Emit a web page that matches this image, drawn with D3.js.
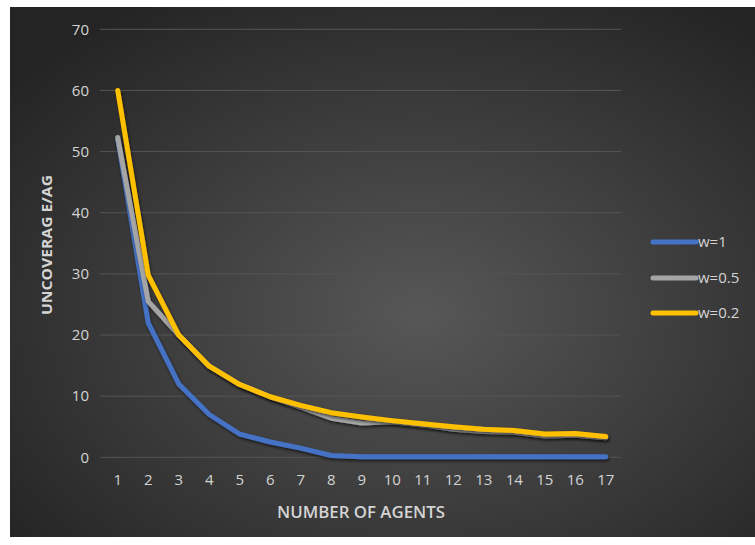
<!DOCTYPE html>
<html>
<head>
<meta charset="utf-8">
<script src="https://cdn.jsdelivr.net/npm/d3@7"></script>
<style>
  html, body { margin: 0; padding: 0; background: #ffffff; }
  svg { display: block; }
  text { font-family: "Open Sans", "Noto Sans", sans-serif; }
</style>
</head>
<body>
<script>
const agents = [1, 2, 3, 4, 5, 6, 7, 8, 9, 10, 11, 12, 13, 14, 15, 16, 17];
const seriesNames = ["w=1", "w=0.5", "w=0.2"];
const w1  = [52, 22, 12, 7, 3.8, 2.5, 1.5, 0.3, 0.1, 0.1, 0.1, 0.1, 0.1, 0.1, 0.1, 0.1, 0.1];
const w05 = [52.3, 25.5, 20, 14.9, 11.9, 9.9, 8.2, 6.4, 5.6, 5.8, 5.3, 4.6, 4.2, 4.1, 3.5, 3.6, 3.2];
const w02 = [60, 29.8, 20, 14.9, 11.9, 9.9, 8.5, 7.3, 6.6, 6.0, 5.5, 5.0, 4.6, 4.4, 3.8, 3.9, 3.4];
const yTicks = [0, 10, 20, 30, 40, 50, 60, 70];
const colors = ["#4472c4", "#a5a5a5", "#ffc000"];
const xTitle = "NUMBER OF AGENTS";
const yTitle = "UNCOVERAG E/AG";

const W = 755, H = 545;
const svg = d3.select("body").append("svg").attr("width", W).attr("height", H);
const defs = svg.append("defs");
const grad = defs.append("radialGradient").attr("id", "bg")
  .attr("cx", "55%").attr("cy", "58%").attr("r", "70%");
grad.append("stop").attr("offset", "0%").attr("stop-color", "#575757");
grad.append("stop").attr("offset", "100%").attr("stop-color", "#242424");
const f = defs.append("filter").attr("id", "sh").attr("x", "-10%").attr("y", "-10%").attr("width", "130%").attr("height", "130%");
f.append("feDropShadow").attr("dx", 1).attr("dy", 2).attr("stdDeviation", 1.5)
  .attr("flood-color", "#000").attr("flood-opacity", 0.6);

svg.append("rect").attr("x", 10).attr("y", 7).attr("width", W - 10).attr("height", 530)
  .attr("fill", "url(#bg)");

const x = d3.scaleBand().domain(agents).range([102.5, 621]);
const y = d3.scaleLinear().domain([0, 70]).range([457.3, 29.3]);

// gridlines
svg.append("g").selectAll("line").data(yTicks).join("line")
  .attr("x1", 100).attr("x2", 621)
  .attr("y1", d => y(d)).attr("y2", d => y(d))
  .attr("stroke", "#555555").attr("stroke-width", 1);

// y axis
const yAxis = svg.append("g").attr("transform", "translate(100,0)")
  .call(d3.axisLeft(y).tickValues(yTicks).tickSize(0).tickPadding(11));
yAxis.select(".domain").remove();
yAxis.selectAll("text").attr("fill", "#d4d4d4").style("font-size", "15px")
  .style("font-family", "'Open Sans', sans-serif");

// x axis
const xAxis = svg.append("g").attr("transform", "translate(0,470)")
  .call(d3.axisBottom(x).tickSize(0).tickPadding(4));
xAxis.select(".domain").remove();
xAxis.selectAll("text").attr("fill", "#d4d4d4").style("font-size", "15px")
  .style("font-family", "'Open Sans', sans-serif");

// titles
svg.append("text").attr("x", 361).attr("y", 518).attr("text-anchor", "middle")
  .attr("fill", "#d4d4d4").style("font-size", "16px").style("font-weight", "600")
  .attr("textLength", 168).attr("lengthAdjust", "spacingAndGlyphs").text(xTitle);
svg.append("text").attr("transform", "translate(52,245) rotate(-90)")
  .attr("text-anchor", "middle").attr("fill", "#d4d4d4")
  .style("font-size", "15px").style("font-weight", "bold")
  .attr("textLength", 140).attr("lengthAdjust", "spacingAndGlyphs").text(yTitle);

// lines
const allSeries = [w1, w05, w02];
const line = d3.line().x((d, i) => x(agents[i]) + x.bandwidth() / 2).y(d => y(d));
svg.append("g").selectAll("path").data(allSeries).join("path")
  .attr("d", d => line(d))
  .attr("fill", "none")
  .attr("stroke", (d, i) => colors[i])
  .attr("stroke-width", 5)
  .attr("stroke-linejoin", "round")
  .attr("stroke-linecap", "round")
  .attr("filter", "url(#sh)");

// legend
const legendY = [242, 278, 313];
const lg = svg.append("g").selectAll("g").data(seriesNames).join("g")
  .attr("transform", (d, i) => `translate(0,${legendY[i]})`);
lg.append("line").attr("x1", 653).attr("x2", 696).attr("y1", 0).attr("y2", 0)
  .attr("stroke", (d, i) => colors[i]).attr("stroke-width", 5)
  .attr("stroke-linecap", "round");
lg.append("text").attr("x", 698).attr("y", 0).attr("dy", "0.35em")
  .attr("fill", "#d4d4d4").style("font-size", "15px").text(d => d);
</script>
</body>
</html>
